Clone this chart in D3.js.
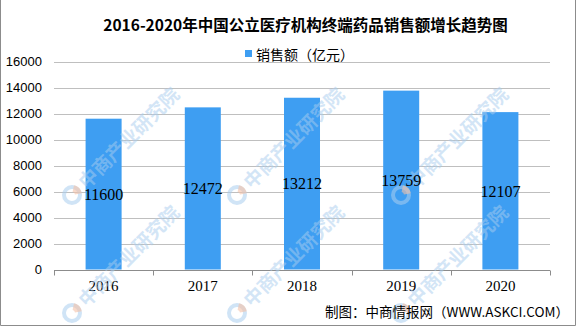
<!DOCTYPE html>
<html>
<head>
<meta charset="utf-8">
<script src="https://cdn.jsdelivr.net/npm/d3@7"></script>
<style>
  html, body { margin: 0; padding: 0; background: #fff; }
  svg { display: block; }
</style>
</head>
<body>
<div id="wrapper"></div>
<script>
// 数据
const years = ["2016", "2017", "2018", "2019", "2020"];
const sales = [11600, 12472, 13212, 13759, 12107];
const yTicks = [0, 2000, 4000, 6000, 8000, 10000, 12000, 14000, 16000];
const title = "2016-2020年中国公立医疗机构终端药品销售额增长趋势图";
const legendLabel = "销售额（亿元）";
const source = "制图：中商情报网（WWW.ASKCI.COM）";
const watermark = "中商产业研究院";

const width = 576, height = 326;
const plot = { left: 54, right: 550, top: 61.5, bottom: 269.5 };
const cjk = "'Noto Sans CJK SC', sans-serif";
const serifNum = "'Liberation Serif', 'DejaVu Serif', serif";

const svg = d3.select("#wrapper").append("svg")
  .attr("width", width)
  .attr("height", height);

svg.append("rect").attr("width", width).attr("height", height).attr("fill", "#fff");

// scales
const x = d3.scaleBand().domain(years).range([plot.left, plot.right])
  .paddingInner(0.637).paddingOuter(0.3185);
const xTicks = d3.scaleBand().domain(years).range([plot.left, plot.right]).padding(0);
const y = d3.scaleLinear().domain([0, 16000]).range([plot.bottom, plot.top]);

// gridlines
svg.append("g")
  .selectAll("line")
  .data(yTicks.filter(d => d > 0))
  .join("line")
    .attr("x1", plot.left).attr("x2", plot.right)
    .attr("y1", d => Math.round(y(d)) + 0.5).attr("y2", d => Math.round(y(d)) + 0.5)
    .attr("stroke", "#bfbfbf").attr("stroke-width", 1);

// y labels
svg.append("g")
  .selectAll("text")
  .data(yTicks)
  .join("text")
    .attr("x", 42)
    .attr("y", d => y(d))
    .attr("dy", "0.36em")
    .attr("text-anchor", "end")
    .attr("font-family", "'Liberation Sans', Arial, sans-serif")
    .attr("font-size", 13)
    .attr("fill", "#000")
    .text(d => d);

// bars
svg.append("g")
  .selectAll("rect")
  .data(years)
  .join("rect")
    .attr("x", d => x(d))
    .attr("width", x.bandwidth())
    .attr("y", (d, i) => y(sales[i]))
    .attr("height", (d, i) => y(0) - y(sales[i]))
    .attr("fill", "#3e9ef2");

// x axis
const axisG = svg.append("g").attr("stroke", "#8c8c8c").attr("stroke-width", 1);
axisG.append("line")
  .attr("x1", plot.left).attr("x2", plot.right)
  .attr("y1", Math.round(y(0)) + 0.5).attr("y2", Math.round(y(0)) + 0.5);
axisG.selectAll("line.tick")
  .data(years.map(d => xTicks(d)).concat([plot.right]))
  .join("line")
    .attr("class", "tick")
    .attr("x1", d => Math.round(d) + 0.5).attr("x2", d => Math.round(d) + 0.5)
    .attr("y1", Math.round(y(0)) + 0.5).attr("y2", Math.round(y(0)) + 5.5);

// x labels
svg.append("g")
  .selectAll("text")
  .data(years)
  .join("text")
    .attr("x", d => x(d) + x.bandwidth() / 2)
    .attr("y", 286)
    .attr("dy", "0.36em")
    .attr("text-anchor", "middle")
    .attr("font-family", serifNum)
    .attr("font-size", 15)
    .attr("fill", "#000")
    .text(d => d);

// 水印 (only the ones that fit inside the picture)
const wmX = [72, 237, 401];
const wmY = [195, 313];
const wm = svg.append("g").attr("pointer-events", "none");
wmY.forEach(wy => {
  wmX.forEach(wx => {
    const g = wm.append("g").attr("transform", "translate(" + wx + "," + wy + ")");
    g.append("circle").attr("r", 8).attr("fill", "none")
      .attr("stroke", "#a9cdef").attr("stroke-width", 4).attr("opacity", 0.55);
    g.append("path")
      .attr("d", d3.arc()({ innerRadius: 3, outerRadius: 10, startAngle: 0.2, endAngle: 1.4 }))
      .attr("fill", "#f3c2a8").attr("opacity", 0.6);
    g.append("text")
      .attr("transform", "rotate(-45) translate(14,0)")
      .attr("dy", "0.36em")
      .attr("font-family", cjk)
      .attr("font-weight", "bold")
      .attr("font-size", 19)
      .attr("fill", "#a9cdef")
      .attr("opacity", 0.5)
      .text(watermark);
  });
});

// bar value labels
svg.append("g")
  .selectAll("text")
  .data(years)
  .join("text")
    .attr("x", d => x(d) + x.bandwidth() / 2)
    .attr("y", (d, i) => (y(sales[i]) + y(0)) / 2)
    .attr("dy", "0.36em")
    .attr("text-anchor", "middle")
    .attr("font-family", serifNum)
    .attr("font-size", 16)
    .attr("fill", "#000")
    .text((d, i) => sales[i]);

// title
svg.append("text")
  .attr("x", 305.5).attr("y", 25).attr("dy", "0.36em")
  .attr("text-anchor", "middle")
  .attr("font-family", cjk)
  .attr("font-weight", "bold")
  .attr("font-size", 15.5)
  .attr("fill", "#000")
  .text(title);

// legend
svg.append("rect")
  .attr("x", 245).attr("y", 50).attr("width", 7).attr("height", 7)
  .attr("fill", "#3e9ef2");
svg.append("text")
  .attr("x", 256).attr("y", 55).attr("dy", "0.36em")
  .attr("font-family", cjk)
  .attr("font-size", 14)
  .attr("fill", "#000")
  .text(legendLabel);

// source
svg.append("text")
  .attr("x", 569).attr("y", 312.5).attr("dy", "0.36em")
  .attr("text-anchor", "end")
  .attr("font-family", cjk)
  .attr("font-size", 13.5)
  .attr("fill", "#000")
  .text(source);

// border
svg.append("path")
  .attr("d", "M0.5,0 V" + (height - 0.5) + " H" + (width - 0.5) + " V0")
  .attr("fill", "none")
  .attr("stroke", "#8c8c8c");
</script>
</body>
</html>
